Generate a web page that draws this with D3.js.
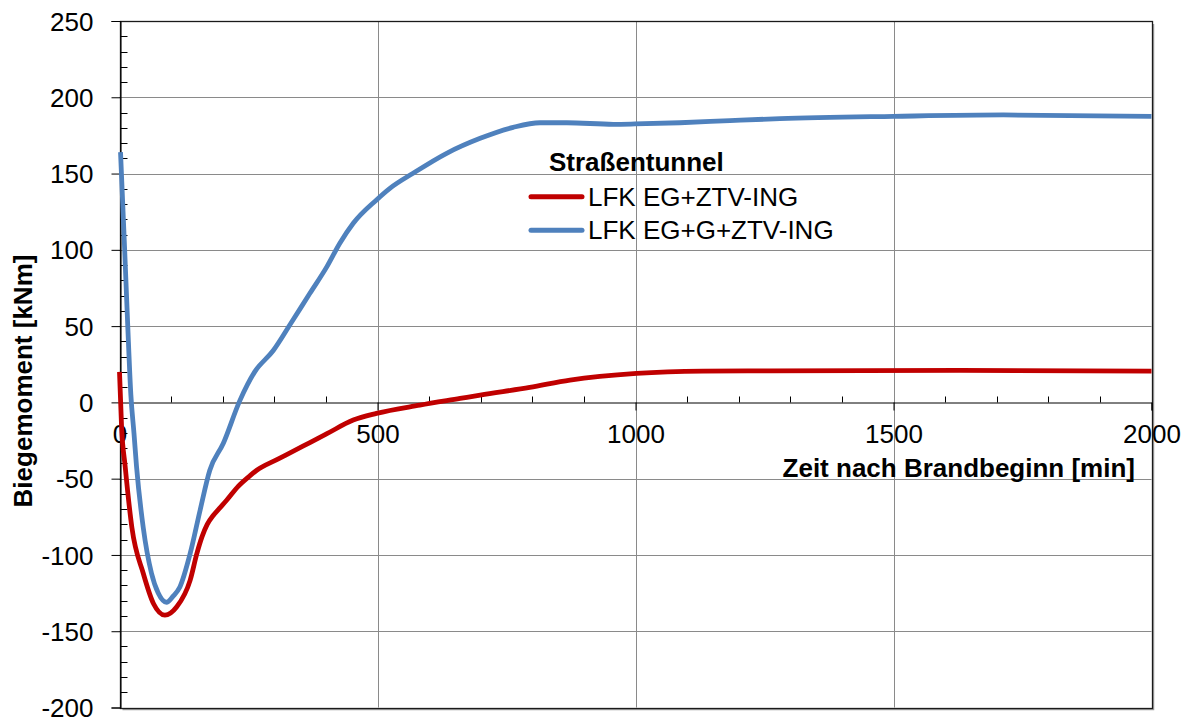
<!DOCTYPE html>
<html><head><meta charset="utf-8">
<script src="https://cdn.jsdelivr.net/npm/d3@7"></script>
<style>
body{margin:0;background:#fff}
svg{display:block}
text{font-family:Arial,"Liberation Sans",sans-serif;fill:#000}
</style>
</head><body>
<svg id="c" width="1187" height="720"></svg>
<script>
// ---- data ----
const xTicks = [0, 500, 1000, 1500, 2000];
const yTicks = [-200, -150, -100, -50, 0, 50, 100, 150, 200, 250];
const seriesNames = ["LFK EG+ZTV-ING", "LFK EG+G+ZTV-ING"];
const legendTitle = "Straßentunnel";
const xTitle = "Zeit nach Brandbeginn [min]";
const yTitle = "Biegemoment [kNm]";

const redTime  = [0, 4, 11, 24, 46, 66, 88, 111, 137, 150, 160, 170, 182, 195, 208, 230, 253, 266, 305, 337, 369, 402, 453, 498, 582, 660, 699, 795, 873, 1002, 1131, 1261, 1628, 2000];
const redValue = [20, -16, -42, -82, -112, -132, -139.5, -134, -116.5, -99, -88, -80, -74, -69, -64, -55, -48, -44.5, -37.5, -32, -26.3, -20.5, -11.6, -7.2, -1.8, 2.6, 4.8, 9.8, 14.6, 19, 20.5, 20.7, 21, 20.5];

const blueTime  = [2, 10, 16, 22, 28, 33, 46, 62, 75, 91, 104, 117, 137, 156, 175, 201, 233, 262, 298, 330, 369, 402, 427, 453, 498, 524, 569, 634, 699, 763, 815, 867, 957, 999, 1086, 1183, 1280, 1500, 1713, 2000];
const blueValue = [164, 100, 50, 5, -20, -42, -82, -112, -125, -131, -127, -121, -99, -71, -44.5, -27, 1, 20, 34, 50.7, 71.5, 89, 104.3, 117.4, 132.7, 140.3, 150.2, 163.3, 173.1, 180.3, 183.3, 183.3, 182.3, 182.5, 183.3, 184.7, 186, 187.5, 188.4, 187.5];

const colors = ["#C00000", "#4F81BD"];

// ---- chart ----
const svg = d3.select("#c");
const x = d3.scaleLinear().domain([0, 2000]).range([119.5, 1151.5]);
const y = d3.scaleLinear().domain([-200, 250]).range([707.5, 21]);
const snap = v => Math.round(v) + 0.5;
const fmt = d => String(d);

const g = svg.append("g");

// gridlines
yTicks.filter(v => v !== 0 && v !== 250 && v !== -200).forEach(v => {
  g.append("line").attr("x1", x(0)).attr("x2", x(2000))
    .attr("y1", snap(y(v))).attr("y2", snap(y(v)))
    .attr("stroke", "#8a8a8a").attr("stroke-width", 1);
});
xTicks.filter(v => v !== 0 && v !== 2000).forEach(v => {
  g.append("line").attr("y1", y(250)).attr("y2", y(-200))
    .attr("x1", snap(x(v))).attr("x2", snap(x(v)))
    .attr("stroke", "#8a8a8a").attr("stroke-width", 1);
});

// plot frame with shadow
g.append("path")
  .attr("d", `M${x(2000)+2},${y(250)+3} V${y(-200)+2} H${x(0)+3}`)
  .attr("fill", "none").attr("stroke", "#a0a0a0").attr("stroke-width", 1.5);
g.append("rect")
  .attr("x", snap(x(0))).attr("y", snap(y(250)))
  .attr("width", snap(x(2000)) - snap(x(0))).attr("height", snap(y(-200)) - snap(y(250)))
  .attr("fill", "none").attr("stroke", "#1a1a1a").attr("stroke-width", 1.3);

// y axis
const yAxis = d3.axisLeft(y).tickValues(yTicks).tickSize(9).tickPadding(18).tickFormat(fmt);
const yg = g.append("g").attr("transform", `translate(${snap(x(0))},0)`).call(yAxis);
yg.select(".domain").attr("stroke", "#000");
yg.selectAll(".tick line").attr("stroke", "#000");
yg.selectAll("text").style("font-size", "26px").attr("fill", "#000").attr("dy", "0.35em");
const yMinor = d3.range(-200, 251, 10).filter(v => v % 50 !== 0);
yMinor.forEach(v => {
  g.append("line").attr("x1", snap(x(0))).attr("x2", snap(x(0)) + 7)
    .attr("y1", snap(y(v))).attr("y2", snap(y(v))).attr("stroke", "#000");
});

// x axis at zero
const xAxis = d3.axisBottom(x).tickValues(xTicks).tickSize(8).tickPadding(14).tickFormat(fmt);
const xg = g.append("g").attr("transform", `translate(0,${snap(y(0))})`).call(xAxis);
xg.select(".domain").attr("stroke", "#000");
xg.selectAll(".tick line").attr("stroke", "#000");
xg.selectAll("text").style("font-size", "26px").attr("fill", "#000");
d3.range(100, 2000, 100).filter(v => v % 500 !== 0).forEach(v => {
  g.append("line").attr("x1", snap(x(v))).attr("x2", snap(x(v)))
    .attr("y1", snap(y(0))).attr("y2", snap(y(0)) - 6).attr("stroke", "#000");
});

// series
const line = d3.line().x(d => x(d[0])).y(d => y(d[1])).curve(d3.curveMonotoneX);
const red = redTime.map((t, i) => [t, redValue[i]]);
const blue = blueTime.map((t, i) => [t, blueValue[i]]);
[red, blue].forEach((data, i) => {
  g.append("path").datum(data).attr("d", line)
    .attr("fill", "none").attr("stroke", colors[i])
    .attr("stroke-width", 4.8).attr("stroke-linejoin", "round").attr("stroke-linecap", "butt");
});

// axis titles
g.append("text").attr("x", 1135).attr("y", 477).attr("text-anchor", "end")
  .style("font-size", "26px").style("font-weight", "bold").text(xTitle);
g.append("text").attr("transform", "translate(32,381) rotate(-90)").attr("text-anchor", "middle")
  .style("font-size", "26px").style("font-weight", "bold").text(yTitle);

// legend
g.append("text").attr("x", 549).attr("y", 171).style("font-size", "26px").style("font-weight", "bold").text(legendTitle);
seriesNames.forEach((name, i) => {
  const ly = 196.7 + i * 33.5;
  g.append("line").attr("x1", 531).attr("x2", 582).attr("y1", ly).attr("y2", ly)
    .attr("stroke", colors[i]).attr("stroke-width", 5).attr("stroke-linecap", "round");
  g.append("text").attr("x", 588).attr("y", ly + 8.8).style("font-size", "26px").text(name);
});
</script>
</body></html>
